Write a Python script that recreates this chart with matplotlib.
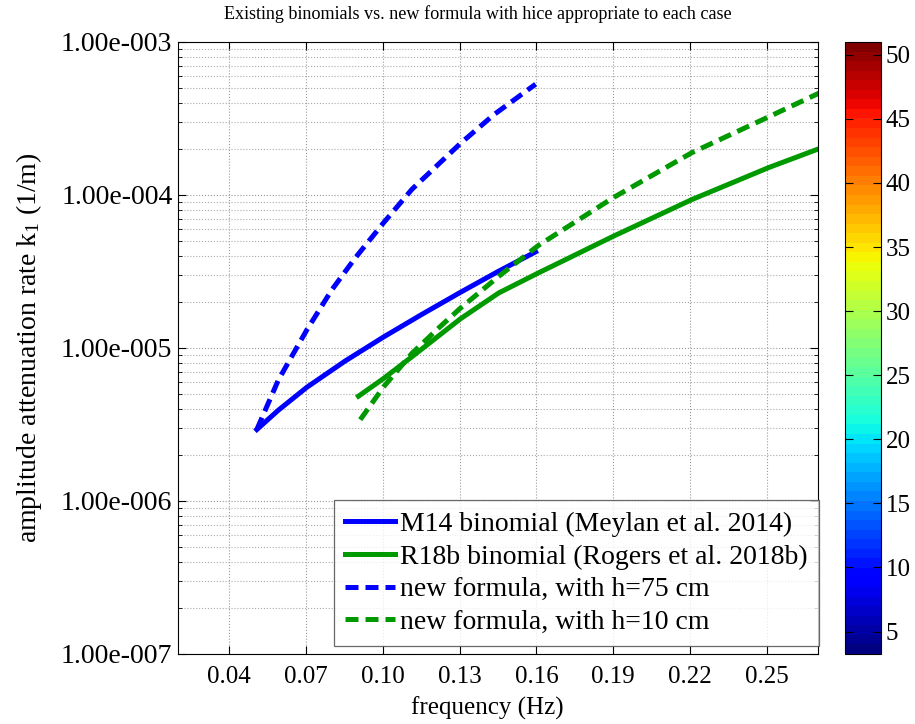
import numpy as np
import matplotlib
matplotlib.use("Agg")
import matplotlib.pyplot as plt
from matplotlib.ticker import FixedLocator, FuncFormatter, LogLocator, NullFormatter

plt.rcParams['font.family'] = ['Liberation Serif', 'DejaVu Serif']
plt.rcParams['mathtext.fontset'] = 'custom'
plt.rcParams['mathtext.rm'] = 'Liberation Serif'
plt.rcParams['mathtext.it'] = 'Liberation Serif:italic'

# values
freq_m14 = [0.0508, 0.0592, 0.0703, 0.0853, 0.1003, 0.1153, 0.1303, 0.1453, 0.1597]
katt_m14 = [2.93e-6, 3.92e-6, 5.53e-6, 8.22e-6, 1.18e-5, 1.66e-5, 2.31e-5, 3.18e-5, 4.25e-5]

freq_new75 = [0.0508, 0.0592, 0.0703, 0.0801, 0.0892, 0.1003, 0.1114, 0.1303, 0.1434, 0.1597]
katt_new75 = [2.93e-6, 6.17e-6, 1.31e-5, 2.40e-5, 3.87e-5, 6.58e-5, 1.09e-4, 2.17e-4, 3.35e-4, 5.3e-4]

freq_r18b = [0.0905, 0.1003, 0.1114, 0.1303, 0.1453, 0.1607, 0.190, 0.2207, 0.2507, 0.2705]
katt_r18b = [4.84e-6, 6.32e-6, 8.77e-6, 1.55e-5, 2.29e-5, 3.09e-5, 5.37e-5, 9.33e-5, 1.51e-4, 2.01e-4]

freq_new10 = [0.0912, 0.1003, 0.1114, 0.1218, 0.1303, 0.1453, 0.1607, 0.190, 0.2207, 0.2507, 0.2705]
katt_new10 = [3.40e-6, 5.57e-6, 9.23e-6, 1.35e-5, 1.82e-5, 2.94e-5, 4.67e-5, 9.6e-5, 1.89e-4, 3.24e-4, 4.64e-4]

xticks = [0.04, 0.07, 0.10, 0.13, 0.16, 0.19, 0.22, 0.25]
cbar_ticks = [5, 10, 15, 20, 25, 30, 35, 40, 45, 50]

fig = plt.figure(figsize=(9.15, 7.24), dpi=100)
ax = fig.add_axes([0.1945, 0.0967, 0.6995, 0.8453])

lw = 3.6
dash = (0, (2.6, 1.4))
ax.plot(freq_m14, katt_m14, color='#0000ff', lw=lw, label='M14 binomial (Meylan et al. 2014)')
ax.plot(freq_r18b, katt_r18b, color='#009900', lw=lw, label='R18b binomial (Rogers et al. 2018b)')
ax.plot(freq_new75, katt_new75, color='#0000ff', lw=lw, ls=dash, label='new formula, with h=75 cm')
ax.plot(freq_new10, katt_new10, color='#009900', lw=lw, ls=dash, label='new formula, with h=10 cm')

ax.set_yscale('log')
ax.set_xlim(0.02, 0.27)
ax.set_ylim(1e-7, 1e-3)
ax.xaxis.set_major_locator(FixedLocator(xticks))
ax.xaxis.set_major_formatter(FuncFormatter(lambda v, p: f"{v:.2f}"))
ax.yaxis.set_major_locator(LogLocator(base=10, numticks=10))
ax.yaxis.set_minor_locator(LogLocator(base=10, subs=np.arange(2, 10), numticks=20))
ax.yaxis.set_minor_formatter(NullFormatter())


def sci_fmt(v, pos):
    e = int(np.floor(np.log10(v) + 1e-9))
    m = v / 10 ** e
    return f"{m:.2f}e{e:04d}"


ax.yaxis.set_major_formatter(FuncFormatter(sci_fmt))
ax.tick_params(which='both', direction='in', top=True, right=True)
ax.tick_params(axis='x', labelsize=18, pad=9)
ax.tick_params(axis='y', labelsize=20, pad=4)
ax.tick_params(which='major', length=6)
ax.tick_params(which='minor', length=3)
ax.grid(True, which='major', ls=':', color='#999999', lw=0.8)
ax.grid(True, which='minor', axis='y', ls=':', color='#aaaaaa', lw=0.8)

ax.set_xlabel('frequency (Hz)', fontsize=18)
ax.xaxis.set_label_coords(0.483, -0.069)
ax.set_ylabel('amplitude attenuation rate k$_1$ (1/m)', fontsize=20)
ax.yaxis.set_label_coords(-0.21, 0.5)
fig.text(478 / 915, 1 - 14 / 724, 'Existing binomials vs. new formula with hice appropriate to each case',
         fontsize=13.1, ha='center', va='center')

leg = ax.legend(loc='lower right', bbox_to_anchor=(1.0015, 0.013), fontsize=20, frameon=True,
                fancybox=False, edgecolor='#444444', handlelength=1.8, handletextpad=0.2,
                borderpad=0.4, labelspacing=0.26, borderaxespad=0)
leg.get_frame().set_linewidth(0.9)

cax = fig.add_axes([0.9235, 0.0967, 0.039, 0.8453])
sm = plt.cm.ScalarMappable(cmap=plt.get_cmap('jet', 64), norm=plt.Normalize(3.25, 51))
cb = fig.colorbar(sm, cax=cax, ticks=cbar_ticks)
cb.ax.tick_params(direction='in', left=True, right=True, labelsize=18, length=6)
cb.outline.set_linewidth(0.8)

fig.savefig('out.png', dpi=100)
